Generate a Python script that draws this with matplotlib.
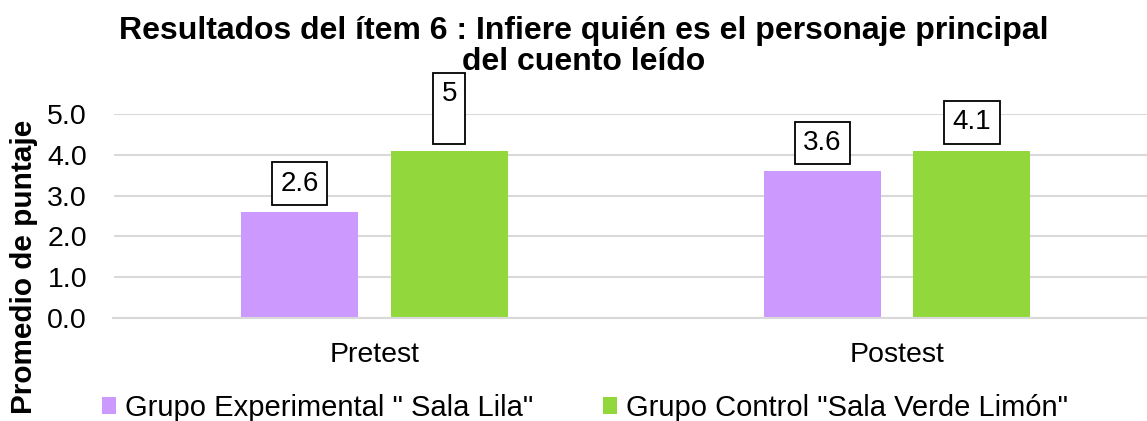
import matplotlib.pyplot as plt
import numpy as np

plt.rcParams['font.family'] = ['Liberation Sans', 'DejaVu Sans']

categories = ["Pretest", "Postest"]
series_names = ['Grupo Experimental " Sala Lila"', 'Grupo Control "Sala Verde Limón"']
experimental = [2.6, 3.6]
control = [4.1, 4.1]
experimental_labels = ["2.6", "3.6"]
control_labels = ["5\n ", "4.1"]
colors = ["#CC99FF", "#92D83C"]

fig = plt.figure(figsize=(11.47, 4.21), dpi=100)
ax = fig.add_axes([113.5 / 1147, 1 - 318 / 421, 1 - 113.5 / 1147, 204 / 421])

x = np.arange(len(categories))
w = 0.224
off = 0.143
b1 = ax.bar(x - off, experimental, w, color=colors[0], label=series_names[0], zorder=2)
b2 = ax.bar(x + off, control, w, color=colors[1], label=series_names[1], zorder=2)

box = dict(boxstyle="square,pad=0.3", fc="white", ec="black", lw=1.3)
for bars, labels in [(b1, experimental_labels), (b2, control_labels)]:
    for rect, lab in zip(bars, labels):
        ax.annotate(lab, (rect.get_x() + rect.get_width() / 2, rect.get_height()),
                    xytext=(0, 11), textcoords="offset points", ha="center", va="bottom",
                    fontsize=20, bbox=box, clip_on=False, zorder=5, linespacing=1.1)

ax.set_xlim(-0.4995, 1.478)
ax.set_ylim(0, 5)
ax.set_yticks(np.arange(0, 5.01, 1.0))
ax.set_yticklabels([f"{v:.1f}" for v in np.arange(0, 5.01, 1.0)], fontsize=20.5)
ax.set_xticks(x)
ax.set_xticklabels(categories, fontsize=20.5)
ax.tick_params(length=0)
ax.tick_params(axis="x", pad=17)
ax.tick_params(axis="y", pad=19)
ax.yaxis.grid(True, color="#D9D9D9", lw=1.5, zorder=0)
for s in ["top", "right", "left"]:
    ax.spines[s].set_visible(False)
ax.spines["bottom"].set_color("#D9D9D9")
ax.spines["bottom"].set_linewidth(1.5)

fig.text(0.509, 0.962, "Resultados del ítem 6 : Infiere quién es el personaje principal\ndel cuento leído",
         ha="center", va="top", fontsize=23, fontweight="bold", linespacing=1.05)
fig.text(0.021, 0.366, "Promedio de puntaje", rotation=90, ha="center", va="center",
         fontsize=21.4, fontweight="bold")

fig.legend(loc="center", bbox_to_anchor=(0.51, 0.031), ncol=2, frameon=False, fontsize=21,
           handlelength=0.48, handleheight=0.48, handletextpad=0.3, columnspacing=2.4,
           borderpad=0, borderaxespad=0)

fig.savefig("out.png", dpi=100)
